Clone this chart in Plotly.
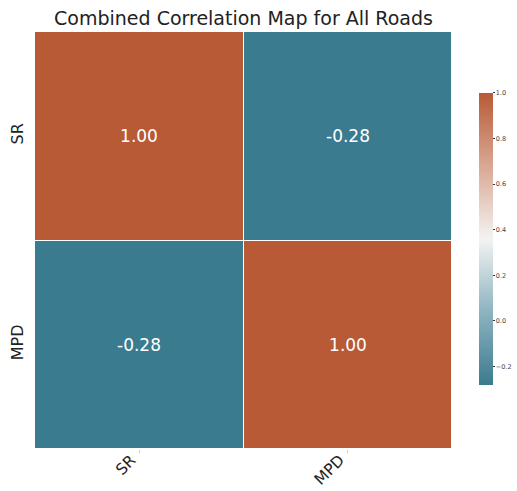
import plotly.graph_objects as go

# Correlation between skid resistance (SR) and mean profile depth (MPD)
variables = ["SR", "MPD"]
corr_values = [
    [1.00, -0.28],
    [-0.28, 1.00],
]
cbar_ticks = [1.0, 0.8, 0.6, 0.4, 0.2, 0.0, -0.2]
cbar_ticklabels = ["1.0", "0.8", "0.6", "0.4", "0.2", "0.0", "\u22120.2"]

# Diverging teal -> white -> rust palette
colorscale = [
    [0.0, "#3b7b8f"],
    [0.25, "#8db3c0"],
    [0.5, "#f4f3f2"],
    [0.75, "#d9a893"],
    [1.0, "#b85a36"],
]

FONT = "DejaVu Sans"

fig = go.Figure(
    go.Heatmap(
        z=corr_values,
        x=variables,
        y=variables,
        zmin=-0.28,
        zmax=1.0,
        colorscale=colorscale,
        xgap=1,
        ygap=1,
        text=[[f"{v:.2f}" for v in row] for row in corr_values],
        texttemplate="%{text}",
        textfont=dict(family=FONT, size=17, color="white"),
        hoverinfo="skip",
        colorbar=dict(
            tickvals=cbar_ticks,
            ticktext=cbar_ticklabels,
            tickfont=dict(family=FONT, size=6.5, color="#444"),
            ticks="outside",
            ticklen=2,
            tickwidth=0.6,
            tickcolor="#333",
            thickness=14,
            thicknessmode="pixels",
            len=292,
            lenmode="pixels",
            xpad=0,
            ypad=0,
            x=1.065,
            xanchor="left",
            xref="paper",
            y=0.504,
            yanchor="middle",
            outlinewidth=0,
        ),
    )
)

fig.update_layout(
    width=517,
    height=491,
    margin=dict(l=35, r=65, t=32, b=42, autoexpand=False),
    paper_bgcolor="white",
    plot_bgcolor="white",
    title=dict(
        text="Combined Correlation Map for All Roads",
        font=dict(family=FONT, size=19, color="#222"),
        x=0.5,
        xref="paper",
        xanchor="center",
        y=0.962,
        yanchor="middle",
    ),
    xaxis=dict(
        tickangle=-45,
        tickfont=dict(family=FONT, size=15.5, color="#222"),
        ticklabelshift=-8,
        ticklabelstandoff=-8,
        showgrid=False,
        zeroline=False,
        ticks="outside",
        ticklen=3,
        tickcolor="#ccc",
    ),
    yaxis=dict(
        autorange="reversed",
        tickangle=-90,
        tickfont=dict(family=FONT, size=16, color="#222"),
        ticklabelstandoff=8,
        showgrid=False,
        zeroline=False,
    ),
)

fig.write_html("out.html")
